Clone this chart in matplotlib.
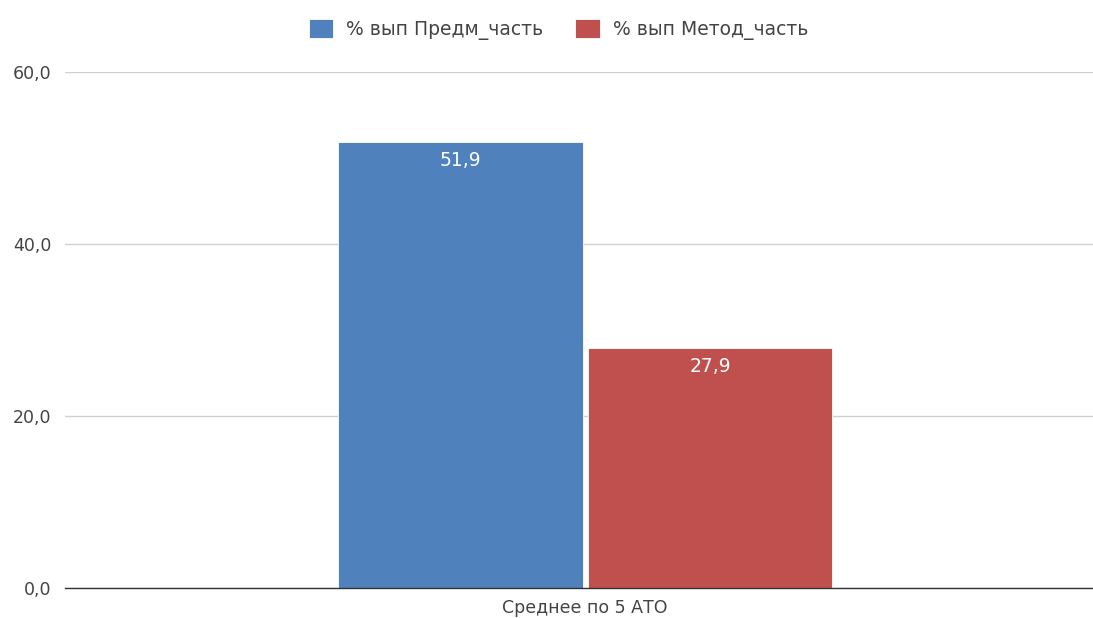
import matplotlib.pyplot as plt
from matplotlib.ticker import FuncFormatter

plt.rcParams['font.family'] = ['DejaVu Sans']

categories = ['Среднее по 5 АТО']
series_names = ['% вып Предм_часть', '% вып Метод_часть']
series_values = [[51.9], [27.9]]
colors = ['#4f81bd', '#c0504d']

fig = plt.figure(figsize=(10.93, 6.18), dpi=100)
ax = fig.add_axes([0.0595, 0.0485, 0.9405, 0.835])

width = 0.238
offsets = [-0.1215, 0.1215]
for name, vals, col, off in zip(series_names, series_values, colors, offsets):
    xs = [i + off for i in range(len(categories))]
    bars = ax.bar(xs, vals, width=width, color=col, label=name,
                  edgecolor='white', linewidth=0.6, zorder=3)
    for b, v in zip(bars, vals):
        ax.text(b.get_x() + b.get_width() / 2, v - 2.2,
                f'{v:.1f}'.replace('.', ','), ha='center', va='center',
                color='white', fontsize=13.5, zorder=4)

ax.set_xlim(-0.506, 0.494)
ax.set_ylim(0, 60)
ax.set_yticks([0, 20, 40, 60])
ax.yaxis.set_major_formatter(FuncFormatter(lambda v, p: f'{v:.1f}'.replace('.', ',')))
ax.set_xticks(range(len(categories)))
ax.set_xticklabels(categories)
ax.tick_params(axis='both', length=0, labelsize=12.5, colors='#444444', pad=8)
ax.tick_params(axis='y', pad=10)
ax.grid(axis='y', color='#d0d0d0', linewidth=1, zorder=0)
for s in ['top', 'right', 'left']:
    ax.spines[s].set_visible(False)
ax.spines['bottom'].set_color('#333333')
ax.spines['bottom'].set_linewidth(1)
ax.spines['bottom'].set_zorder(5)

ax.legend(loc='lower center', bbox_to_anchor=(0.48, 1.03), ncol=2, frameon=False,
          fontsize=13.5, handlelength=1.3, handleheight=1.2, columnspacing=1.7,
          handletextpad=0.7, labelcolor='#444444')

fig.savefig('out.png', dpi=100)
